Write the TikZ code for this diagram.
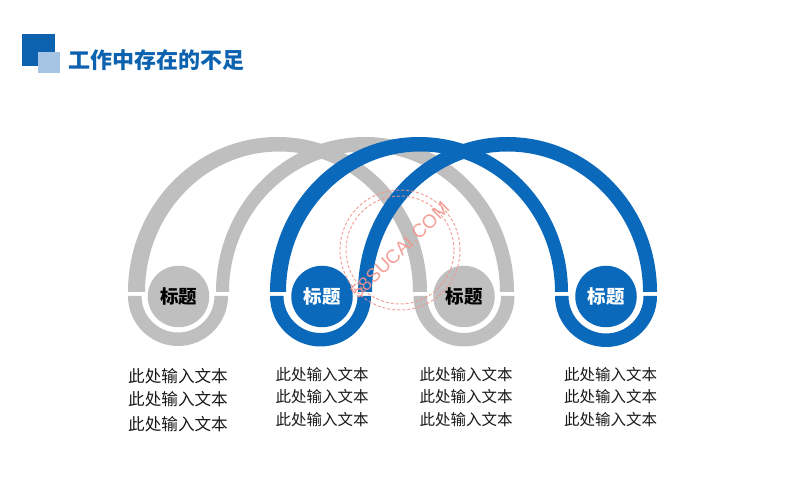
\documentclass[tikz,border=0pt]{standalone}
\usepackage{fontspec}
\setmainfont{Noto Sans CJK SC}
\newfontfamily\wmfont{Liberation Sans}
\definecolor{hgray}{HTML}{BFBFBF}
\definecolor{hblue}{HTML}{0B69BC}
\definecolor{hlight}{HTML}{A6C5E5}
\definecolor{htitle}{HTML}{0D62B0}
\definecolor{hwm}{HTML}{F2958C}
\newcommand{\hoop}[5]{% colour, outer left, outer right, inner left, inner right
  \fill[#1] (#2,208) arc[start angle=180,end angle=0,x radius={(#3-#2)/2},y radius=155]
    -- (#5,208) arc[start angle=0,end angle=180,x radius={(#5-#4)/2},y radius=140.5] -- cycle;
}
\newcommand{\cupring}[3]{% colour, centre x, outer radius
  \fill[#1] (#2-#3,204) arc[start angle=180,end angle=360,radius=#3]
    -- (#2+#3-13.5,204) arc[start angle=360,end angle=180,radius=#3-13.5] -- cycle;
}
\tikzset{
  x=1pt,y=1pt,
  disk/.style={circle,minimum size=61.5pt,inner sep=0pt,font=\fontsize{18.5}{18.5}\selectfont\bfseries},
  graydisk/.style={disk,fill=hgray,text=black},
  bluedisk/.style={disk,fill=hblue,text=white},
  bodywide/.style={font=\fontsize{16.6}{16.6}\selectfont,text=black!90,inner sep=0pt},
  bodytext/.style={font=\fontsize{15.5}{15.5}\selectfont,text=black!90,inner sep=0pt},
  ring/.style={draw=hwm,line width=1pt,dash pattern=on 3pt off 2pt,opacity=.85},
}
\begin{document}
\begin{tikzpicture}
\useasboundingbox (0,0) rectangle (800,500);
\fill[white] (0,0) rectangle (800,500);
% header
\fill[htitle] (22,434) rectangle (54.5,466);
\fill[hlight] (38,427) rectangle (60,448);
\node[anchor=west,inner sep=0pt,text=htitle,font=\fontsize{22}{22}\selectfont\bfseries] (title) at (68.5,440) {工作中存在的不足};
% grey hoops
\hoop{hgray}{128}{427}{145}{413}
\hoop{hgray}{216}{514}{229}{500}
\cupring{hgray}{178}{50}
\cupring{hgray}{464}{50.5}
% blue hoops
\hoop{hblue}{270}{568}{286}{555}
\hoop{hblue}{358}{657}{372}{643}
\cupring{hblue}{320.5}{50.5}
\cupring{hblue}{606}{51}
% discs
\node[graydisk] (d1) at (178.5,203.5) {标题};
\node[bluedisk] (d2) at (322,203.5) {标题};
\node[graydisk] (d3) at (464,203.5) {标题};
\node[bluedisk] (d4) at (606,203.5) {标题};
% watermark
\draw[ring] (400,250) circle[radius=60];
\draw[ring] (400,250) circle[radius=54];
\node[rotate=44,text=hwm,opacity=.9,inner sep=0pt,font=\wmfont\fontsize{19}{19}\selectfont] (wm) at (400,250) {58SUCAI.COM};
% body text
\node[bodywide] (a1) at (178,124) {此处输入文本};
\node[bodywide] (a2) at (178,101) {此处输入文本};
\node[bodywide] (a3) at (178,76) {此处输入文本};
\node[bodytext] (b1) at (322,125) {此处输入文本};
\node[bodytext] (b2) at (322,103) {此处输入文本};
\node[bodytext] (b3) at (322,80) {此处输入文本};
\node[bodytext] (c1) at (466,125) {此处输入文本};
\node[bodytext] (c2) at (466,103) {此处输入文本};
\node[bodytext] (c3) at (466,80) {此处输入文本};
\node[bodytext] (e1) at (610.5,125) {此处输入文本};
\node[bodytext] (e2) at (610.5,103) {此处输入文本};
\node[bodytext] (e3) at (610.5,80) {此处输入文本};
\end{tikzpicture}
\end{document}
